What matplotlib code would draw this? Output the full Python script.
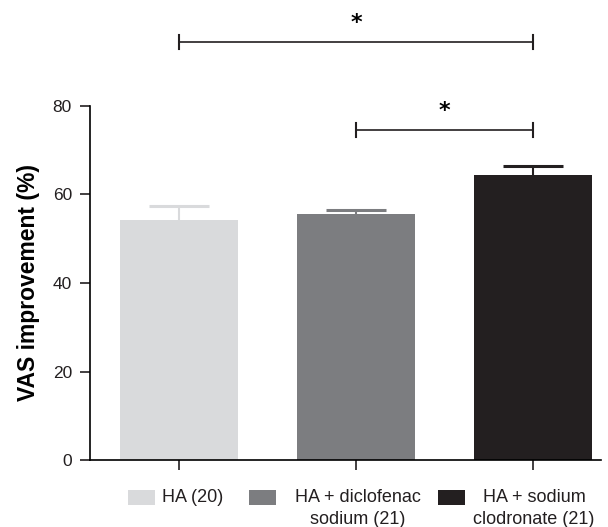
import matplotlib.pyplot as plt
from matplotlib.patches import Rectangle

plt.rcParams["font.family"] = ["Liberation Sans", "DejaVu Sans"]

groups = ["HA (20)", "HA + diclofenac\nsodium (21)", "HA + sodium\nclodronate (21)"]
means = [54.2, 55.6, 64.3]
sem = [3.2, 1.0, 2.1]
colors = ["#d9dadc", "#7c7d80", "#231f20"]

# significance brackets: (from group, to group, height)
brackets = [(0, 2, 94.5), (1, 2, 74.6)]

W, H = 608, 527
fig = plt.figure(figsize=(W / 100, H / 100), dpi=100)
ax = fig.add_axes([0.148, 0.127, 0.84, 0.672])

x = list(range(len(means)))
for i in x:
    ax.bar(i, means[i], width=0.667, color=colors[i], zorder=2)
    eb = ax.errorbar(i, means[i], yerr=[[0], [sem[i]]], color=colors[i],
                     capsize=21.5, elinewidth=1.5, capthick=2.2, zorder=3)
    eb[1][0].set_visible(False)  # hide the lower cap

ax.set_xlim(-0.503, 2.38)
ax.set_ylim(0, 80)
ax.set_yticks(range(0, 81, 20))
ax.set_xticks(x)
ax.set_xticklabels([])
ax.spines["top"].set_visible(False)
ax.spines["right"].set_visible(False)
ax.spines["left"].set_linewidth(1.2)
ax.spines["bottom"].set_linewidth(1.2)
ax.tick_params(axis="both", direction="out", length=7, width=1.2, labelsize=12.5,
               colors="#231f20", pad=6)
ax.set_ylabel("VAS improvement (%)", fontsize=16.5, fontweight="bold", labelpad=9)

for a, b, h in brackets:
    ax.plot([a, b], [h, h], color="#231f20", lw=1.2, clip_on=False)
    for e in (a, b):
        ax.plot([e, e], [h - 1.6, h + 1.6], color="#231f20", lw=1.5, clip_on=False)
    ax.text((a + b) / 2, h + 2.0, "*", ha="center", va="bottom", family="DejaVu Sans",
            fontsize=16, fontweight="bold", clip_on=False)

# legend below the axis: swatch left edge and label centre, in pixels
swatch_x = [128, 249, 438]
label_cx = [193, 357.5, 534]
for c, g, sx, lx in zip(colors, groups, swatch_x, label_cx):
    fig.patches.append(Rectangle((sx / W, 1 - 504.5 / H), 27 / W, 15 / H,
                                 transform=fig.transFigure, facecolor=c, edgecolor="none"))
    fig.text(lx / W, 1 - 489 / H, g, ha="center", va="top", multialignment="center",
             fontsize=13, linespacing=1.42, color="#231f20")

fig.savefig("out.png", dpi=100)
